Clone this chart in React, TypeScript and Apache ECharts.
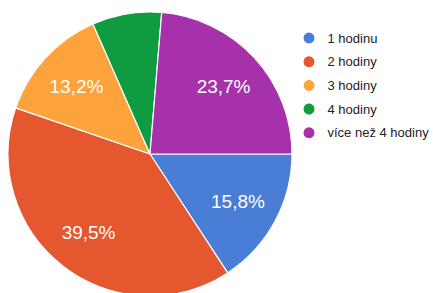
import React, { useEffect, useRef } from "react";
import * as echarts from "echarts";

const categories = ["1 hodinu", "2 hodiny", "3 hodiny", "4 hodiny", "více než 4 hodiny"];
const counts = [6, 15, 5, 3, 9];
const colors = ["#4a7ed6", "#e5572f", "#fca43b", "#0f9b3f", "#a631ab"];

export default function App() {
  const ref = useRef<HTMLDivElement>(null);
  useEffect(() => {
    if (!ref.current) return;
    const chart = echarts.init(ref.current, null, { renderer: "svg" });
    const total = counts.reduce((a, b) => a + b, 0);
    const data = categories.map((name, i) => ({
      name,
      value: counts[i],
      itemStyle: { color: colors[i] },
    }));
    const labelData = categories.map((name, i) => ({
      name,
      value: counts[i],
      label: { show: counts[i] / total > 0.1 },
    }));
    chart.setOption({
      animation: false,
      color: colors,
      legend: {
        orient: "vertical",
        left: 301.5,
        top: 30.5,
        icon: "circle",
        itemWidth: 13,
        itemHeight: 13,
        itemGap: 8.7,
        padding: 0,
        selectedMode: false,
        data: categories,
        textStyle: {
          fontFamily: "Liberation Sans, Arial, sans-serif",
          fontSize: 13,
          lineHeight: 13,
          color: "#222",
          padding: [0, 0, 0, 7],
        },
      },
      series: [
        {
          type: "pie",
          center: [150, 154],
          radius: [0, 142],
          startAngle: 0,
          clockwise: true,
          silent: true,
          label: { show: false },
          labelLine: { show: false },
          itemStyle: { borderColor: "#ffffff", borderWidth: 1.2 },
          data,
        },
        {
          type: "pie",
          center: [150, 154],
          radius: [52, 142],
          startAngle: 0,
          clockwise: true,
          silent: true,
          itemStyle: { color: "rgba(0,0,0,0)" },
          labelLine: { show: false },
          label: {
            show: true,
            position: "inside",
            color: "#ffffff",
            fontSize: 19,
            fontFamily: "Liberation Sans, Arial, sans-serif",
            formatter: (p: any) => ((p.value / total) * 100).toFixed(1).replace(".", ",") + "%",
          },
          data: labelData,
        },
      ],
    });
    return () => chart.dispose();
  }, []);
  return (
    <div
      ref={ref}
      style={{ position: "absolute", left: 0, top: 0, width: 433, height: 293, background: "#fff" }}
    />
  );
}
